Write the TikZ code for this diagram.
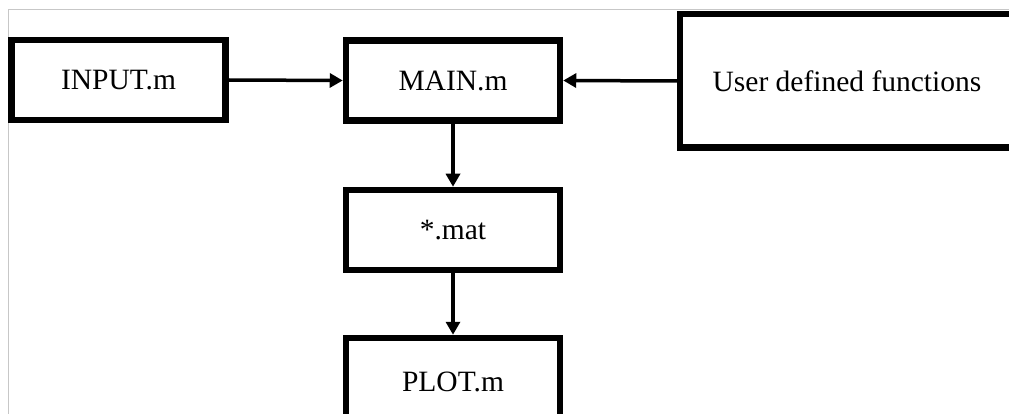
\documentclass[tikz,border=0pt]{standalone}
\usepackage{fontspec}
\setmainfont{Liberation Serif}
\usetikzlibrary{arrows.meta}

\tikzset{
  x=1pt, y=-1pt,
  filebox/.style={draw=black, line width=6.5pt, fill=white, inner sep=0pt,
    minimum width=214pt, minimum height=80pt,
    font=\fontsize{29.5}{34}\selectfont},
  flow/.style={line width=3.5pt, -{Triangle[length=13pt,width=14pt]}},
  frameline/.style={draw=black!22, line width=1pt}
}

\begin{document}
\begin{tikzpicture}
  \useasboundingbox (0,0) rectangle (1009,414);
  \clip (0,0) rectangle (1009,414);

  % thin page frame
  \draw[frameline] (8,414) -- (8,10) -- (1009,10);

  % script and data files
  \node[filebox] (input) at (118.5,80) {INPUT.m};
  \node[filebox] (main)  at (453,80.5) {MAIN.m};
  \node[filebox] (mat)   at (453,230) {*.mat};
  \node[filebox, minimum height=88pt] (plot) at (453,382) {PLOT.m};
  \node[filebox, minimum width=334pt, minimum height=133.5pt] (user) at (847,81) {User defined functions};

  % data flow
  \draw[flow] (input.east) -- (main.west);
  \draw[flow] (user.west) -- (main.east);
  \draw[flow] (main.south) -- (mat.north);
  \draw[flow] (mat.south) -- (plot.north);
\end{tikzpicture}
\end{document}
